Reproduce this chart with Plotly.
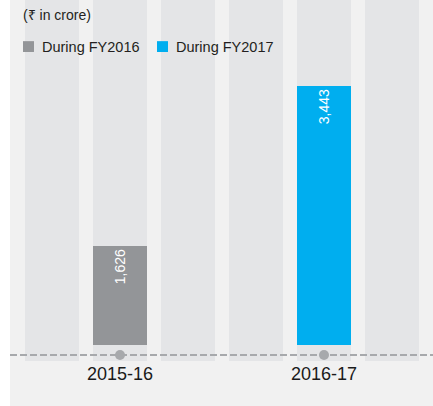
import plotly.graph_objects as go

# slots behind the bars (only two carry a value)
SLOTS = ["_a", "2015-16", "_b", "_c", "2016-17", "_d"]
TICK_LABELS = ["2015-16", "2016-17"]

SERIES_NAMES = ["During FY2016", "During FY2017"]
FY2016_X = ["2015-16"]
FY2016_VALUES = [1626]
FY2017_X = ["2016-17"]
FY2017_VALUES = [3443]

GREY = "#939598"
BLUE = "#00aeef"
STRIPE = "#e4e5e7"
BG = "#f1f1f1"
DOT = "#a7a9ac"
INK = "#231f20"

Y_MIN, Y_MAX = 318, 4418
BAR_BASE = 500
BASELINE = 386
BAR_W = 0.794

fig = go.Figure()

# background stripes, one per slot
for slot in SLOTS:
    fig.add_shape(
        type="rect",
        xref="x",
        yref="paper",
        x0=slot,
        x1=slot,
        x0shift=-BAR_W / 2,
        x1shift=BAR_W / 2,
        y0=0,
        y1=1,
        fillcolor=STRIPE,
        line=dict(width=0),
        layer="below",
    )

# dashed baseline across the whole panel
fig.add_shape(
    type="line",
    xref="paper",
    x0=0,
    x1=1,
    yref="y",
    y0=BASELINE,
    y1=BASELINE,
    line=dict(color=DOT, width=2, dash="7px,3px"),
    layer="below",
)

# white strip on the far left
fig.add_shape(
    type="rect",
    xref="paper",
    yref="paper",
    x0=-0.03,
    x1=0,
    y0=-0.2,
    y1=1.05,
    fillcolor="white",
    line=dict(width=0),
    layer="below",
)

for name, xs, ys, color in [
    (SERIES_NAMES[0], FY2016_X, FY2016_VALUES, GREY),
    (SERIES_NAMES[1], FY2017_X, FY2017_VALUES, BLUE),
]:
    fig.add_trace(
        go.Bar(
            x=xs,
            y=[v - BAR_BASE for v in ys],
            base=BAR_BASE,
            width=BAR_W,
            name=name,
            marker=dict(color=color, line=dict(width=0)),
            text=[f"{v:,}" for v in ys],
            textposition="inside",
            insidetextanchor="end",
            textangle=-90,
            textfont=dict(color="white", size=14, family="Liberation Sans Narrow, Arial Narrow, sans-serif"),
            hovertemplate="%{x}: %{text}<extra></extra>",
            showlegend=False,
        )
    )

fig.add_trace(
    go.Scatter(
        x=TICK_LABELS,
        y=[BASELINE] * len(TICK_LABELS),
        mode="markers",
        marker=dict(color=DOT, size=10),
        showlegend=False,
        hoverinfo="skip",
        cliponaxis=False,
    )
)

# legend drawn by hand (square + label), to keep the tight spacing
legend_items = [(SERIES_NAMES[0], GREY, 0.0307), (SERIES_NAMES[1], BLUE, 0.3475)]
for label, color, x0 in legend_items:
    fig.add_shape(
        type="rect",
        xref="paper",
        yref="paper",
        x0=x0,
        x1=x0 + 0.026,
        y0=0.856,
        y1=0.886,
        fillcolor=color,
        line=dict(width=0),
    )
    fig.add_annotation(
        text=label,
        xref="paper",
        yref="paper",
        x=x0 + 0.040,
        y=0.870,
        xanchor="left",
        yanchor="middle",
        showarrow=False,
        font=dict(size=14.5, color=INK),
    )

fig.add_annotation(
    text="(₹ in crore)",
    xref="paper",
    yref="paper",
    x=0.026,
    y=0.958,
    xanchor="left",
    yanchor="middle",
    showarrow=False,
    font=dict(size=14, color=INK),
)

fig.update_layout(
    width=433,
    height=406,
    barmode="overlay",
    paper_bgcolor=BG,
    plot_bgcolor=BG,
    margin=dict(l=10, r=0, t=0, b=45),
    font=dict(family="Liberation Sans, Arial, sans-serif", color=INK),
    showlegend=False,
    bargap=0,
)
fig.update_xaxes(
    type="category",
    categoryorder="array",
    categoryarray=SLOTS,
    range=[-0.6176, 5.603],
    tickvals=TICK_LABELS,
    ticktext=TICK_LABELS,
    tickfont=dict(size=18, color="#1a1a1a"),
    showgrid=False,
    zeroline=False,
    showline=False,
    ticks="",
)
fig.update_yaxes(range=[Y_MIN, Y_MAX], visible=False, showgrid=False)

fig.write_html(
    "out.html",
    config={"displayModeBar": False},
    post_script="document.body.style.margin='0';",
)
